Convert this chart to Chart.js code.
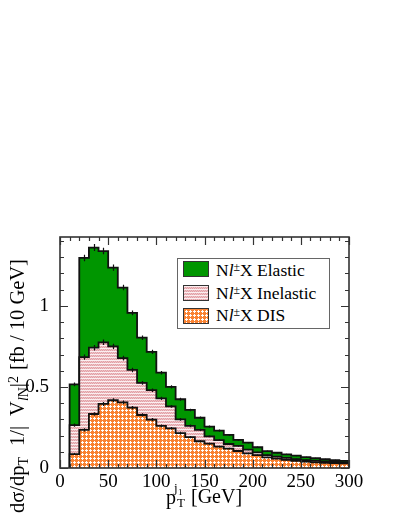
<!DOCTYPE html>
<html><head><meta charset="utf-8">
<script src="https://cdn.jsdelivr.net/npm/chart.js@4.4.1/dist/chart.umd.min.js"></script>
<style>
html,body{margin:0;padding:0;background:#fff;}
#wrap{position:relative;width:399px;height:516px;overflow:hidden;font-family:'Liberation Serif','DejaVu Serif',serif;color:#000;}
canvas{position:absolute;left:0;top:0;}
.abs{position:absolute;white-space:nowrap;line-height:1;}
.sb{position:relative;top:0.3em;font-size:68%;}
.sp{position:relative;top:-0.45em;font-size:68%;}
.sw{position:absolute;width:26px;height:16px;border:1.5px solid #333;box-sizing:border-box;image-rendering:pixelated;}
.lg{font-size:17.5px;}
</style></head><body>
<div id="wrap">
<canvas id="c" width="399" height="516"></canvas>
<div class="abs" style="left:177px;top:258px;width:151px;height:69px;border:1px solid #666;background:#fff;"></div>
<div class="sw" id="swE" style="left:183px;top:261px;background:#009600;"></div>
<div class="sw" id="swI" style="left:183px;top:285px;"></div>
<div class="sw" id="swD" style="left:183px;top:308px;"></div>
<div class="abs lg" style="left:216px;top:262px;">N<i>l</i><span class="sp">±</span>X Elastic</div>
<div class="abs lg" style="left:216px;top:285px;">N<i>l</i><span class="sp">±</span>X Inelastic</div>
<div class="abs lg" style="left:216px;top:307px;">N<i>l</i><span class="sp">±</span>X DIS</div>
<div class="abs" style="left:7px;top:513px;font-size:20.5px;transform-origin:0 0;transform:rotate(-90deg);">dσ/dp<span class="sb">T</span><span style="margin-left:11px">1/|</span><span style="margin-left:10px">V</span><span class="sb"><i>l</i>N</span>|<span class="sp">2</span><span style="margin-left:6px">[fb / 10 GeV]</span></div>
<div class="abs" style="left:166px;top:487px;font-size:20px;">p</div>
<div class="abs" style="left:177px;top:496px;font-size:13px;">T</div>
<div class="abs" style="left:174px;top:481px;font-size:13px;">j</div>
<div class="abs" style="left:178px;top:488px;font-size:9px;">1</div>
<div class="abs" style="left:191px;top:486px;font-size:20px;">[GeV]</div>
</div>
<script>
// histogram bins (lower edges, GeV), width 10 GeV
const binLow = [10,20,30,40,50,60,70,80,90,100,110,120,130,140,150,160,170,180,190,200,210,220,230,240,250,260,270,280,290];
const binWidth = 10;
// contributions [fb / 10 GeV], stacked in the plot: DIS, then Inelastic, then Elastic
const disValues = [0.086,0.235,0.333,0.395,0.418,0.405,0.372,0.327,0.298,0.260,0.245,0.215,0.190,0.165,0.150,0.132,0.120,0.105,0.090,0.080,0.066,0.058,0.050,0.044,0.039,0.035,0.032,0.030,0.028];
const inelasticValues = [0.179,0.449,0.409,0.380,0.332,0.273,0.233,0.198,0.182,0.170,0.135,0.085,0.070,0.070,0.045,0.040,0.028,0.031,0.023,0.017,0.014,0.012,0.012,0.011,0.010,0.009,0.008,0.007,0.007];
const elasticValues = [0.251,0.612,0.618,0.563,0.486,0.435,0.352,0.279,0.236,0.158,0.120,0.124,0.098,0.075,0.060,0.058,0.056,0.037,0.043,0.031,0.024,0.024,0.022,0.021,0.018,0.016,0.014,0.011,0.009];
// statistical error bars on the stacked tops
const disErr = [0.006,0.010,0.011,0.012,0.012,0.012,0.011,0.010,0.010,0.009,0.008,0.008,0.007,0.006,0.006,0.005,0.005,0.005,0.004,0.004,0.004,0.003,0.003,0.003,0.003,0.002,0.002,0.002,0.002];
const inelErr = [0.010,0.016,0.017,0.017,0.016,0.015,0.014,0.012,0.011,0.010,0.009,0.008,0.008,0.007,0.006,0.006,0.005,0.005,0.004,0.004,0.004,0.003,0.003,0.003,0.003,0.003,0.002,0.002,0.002];
const totalErr = [0.012,0.020,0.022,0.020,0.019,0.017,0.015,0.014,0.013,0.011,0.010,0.009,0.008,0.008,0.007,0.007,0.006,0.006,0.005,0.005,0.004,0.004,0.004,0.003,0.003,0.003,0.003,0.003,0.003];
const xTickLabels = [0,50,100,150,200,250,300];
const yTickLabels = [0,0.5,1];
const labels = ['Nl±X Elastic','Nl±X Inelastic','Nl±X DIS'];

function makeTile(w,h,fn){
  const c=document.createElement('canvas'); c.width=w; c.height=h;
  const g=c.getContext('2d');
  for(let y=0;y<h;y++)for(let x=0;x<w;x++){g.fillStyle=fn(x,y);g.fillRect(x,y,1,1);}
  return c;
}
const pinkTile = makeTile(4,3,(x,y)=> y===0 ? '#fbeef0' : ((x+y)%2===0 ? '#e0a0a6' : '#efc2c5'));
const orangeTile = makeTile(4,4,(x,y)=>{const d=Math.abs(x-2)+Math.abs(y-2);return d<=1?'#ffffff':'#f98232';});
document.getElementById('swI').style.backgroundImage='url('+pinkTile.toDataURL()+')';
document.getElementById('swD').style.backgroundImage='url('+orangeTile.toDataURL()+')';

const canvas=document.getElementById('c');
const ctx=canvas.getContext('2d');
const pinkPattern=ctx.createPattern(pinkTile,'repeat');
const orangePattern=ctx.createPattern(orangeTile,'repeat');

const disTop = disValues.map(v=>v);
const inelTop = disValues.map((v,i)=>v+inelasticValues[i]);
const totalTop = inelTop.map((v,i)=>v+elasticValues[i]);

function stepData(tops){
  const n=binLow.length;
  const pts=[{x:binLow[0],y:0}];
  for(let i=0;i<n;i++) pts.push({x:binLow[i],y:tops[i]});
  pts.push({x:binLow[n-1]+binWidth,y:tops[n-1]});
  pts.push({x:binLow[n-1]+binWidth,y:0});
  return pts;
}
const common={stepped:'before',fill:'origin',pointRadius:0,borderColor:'#111',borderWidth:1.8,tension:0};

const errorBars={
  id:'errorBars',
  afterDatasetsDraw(chart){
    const {ctx,scales:{x,y}}=chart;
    ctx.save();ctx.strokeStyle='#111';ctx.lineWidth=1.2;ctx.beginPath();
    [[disTop,disErr],[inelTop,inelErr],[totalTop,totalErr]].forEach(([tops,errs])=>{
      tops.forEach((t,i)=>{
        const px=Math.round(x.getPixelForValue(binLow[i]+binWidth/2))+0.5;
        ctx.moveTo(px,y.getPixelForValue(t+errs[i]));
        ctx.lineTo(px,y.getPixelForValue(t-errs[i]));
      });
    });
    ctx.stroke();ctx.restore();
  }
};

const frameTicks={
  id:'frameTicks',
  afterDatasetsDraw(chart){
    const {ctx,chartArea:a,scales:{x,y}}=chart;
    ctx.save();
    ctx.strokeStyle='#333';ctx.lineWidth=1.2;
    ctx.beginPath();
    for(let v=0;v<=300;v+=10){
      const px=Math.round(x.getPixelForValue(v))+0.5; const L=(v%50===0)?8:4;
      ctx.moveTo(px,a.bottom);ctx.lineTo(px,a.bottom-L);
      ctx.moveTo(px,a.top);ctx.lineTo(px,a.top+L);
    }
    for(let k=0;k<=14;k++){
      const py=Math.round(y.getPixelForValue(k/10))+0.5; const L=(k%5===0)?8:4;
      ctx.moveTo(a.left,py);ctx.lineTo(a.left+L,py);
      ctx.moveTo(a.right,py);ctx.lineTo(a.right-L,py);
    }
    ctx.stroke();
    ctx.lineWidth=1.6;
    ctx.strokeRect(a.left,a.top,a.right-a.left,a.bottom-a.top);
    ctx.restore();
  }
};

new Chart(ctx,{
  type:'line',
  data:{datasets:[
    Object.assign({label:labels[2],data:stepData(disTop),backgroundColor:orangePattern},common),
    Object.assign({label:labels[1],data:stepData(inelTop),backgroundColor:pinkPattern},common),
    Object.assign({label:labels[0],data:stepData(totalTop),backgroundColor:'#009600'},common)
  ]},
  options:{
    responsive:false,animation:false,devicePixelRatio:1,
    layout:{padding:{left:0,top:237,right:50,bottom:0}},
    plugins:{legend:{display:false},tooltip:{enabled:false}},
    scales:{
      x:{type:'linear',min:0,max:300,
        afterBuildTicks:s=>{s.ticks=xTickLabels.map(v=>({value:v}));},
        ticks:{font:{family:'Liberation Serif',size:19},color:'#000',padding:-5,autoSkip:false,maxRotation:0,callback:v=>String(v)},
        grid:{display:false},border:{display:false},
        afterFit:s=>{s.height=48;}},
      y:{type:'linear',min:0,max:1.425,
        afterBuildTicks:s=>{s.ticks=yTickLabels.map(v=>({value:v}));},
        ticks:{font:{family:'Liberation Serif',size:19},color:'#000',padding:3,callback:v=>String(v)},
        grid:{display:false},border:{display:false},
        afterFit:s=>{s.width=60;}}
    }
  },
  plugins:[errorBars,frameTicks]
});
</script>
</body></html>
